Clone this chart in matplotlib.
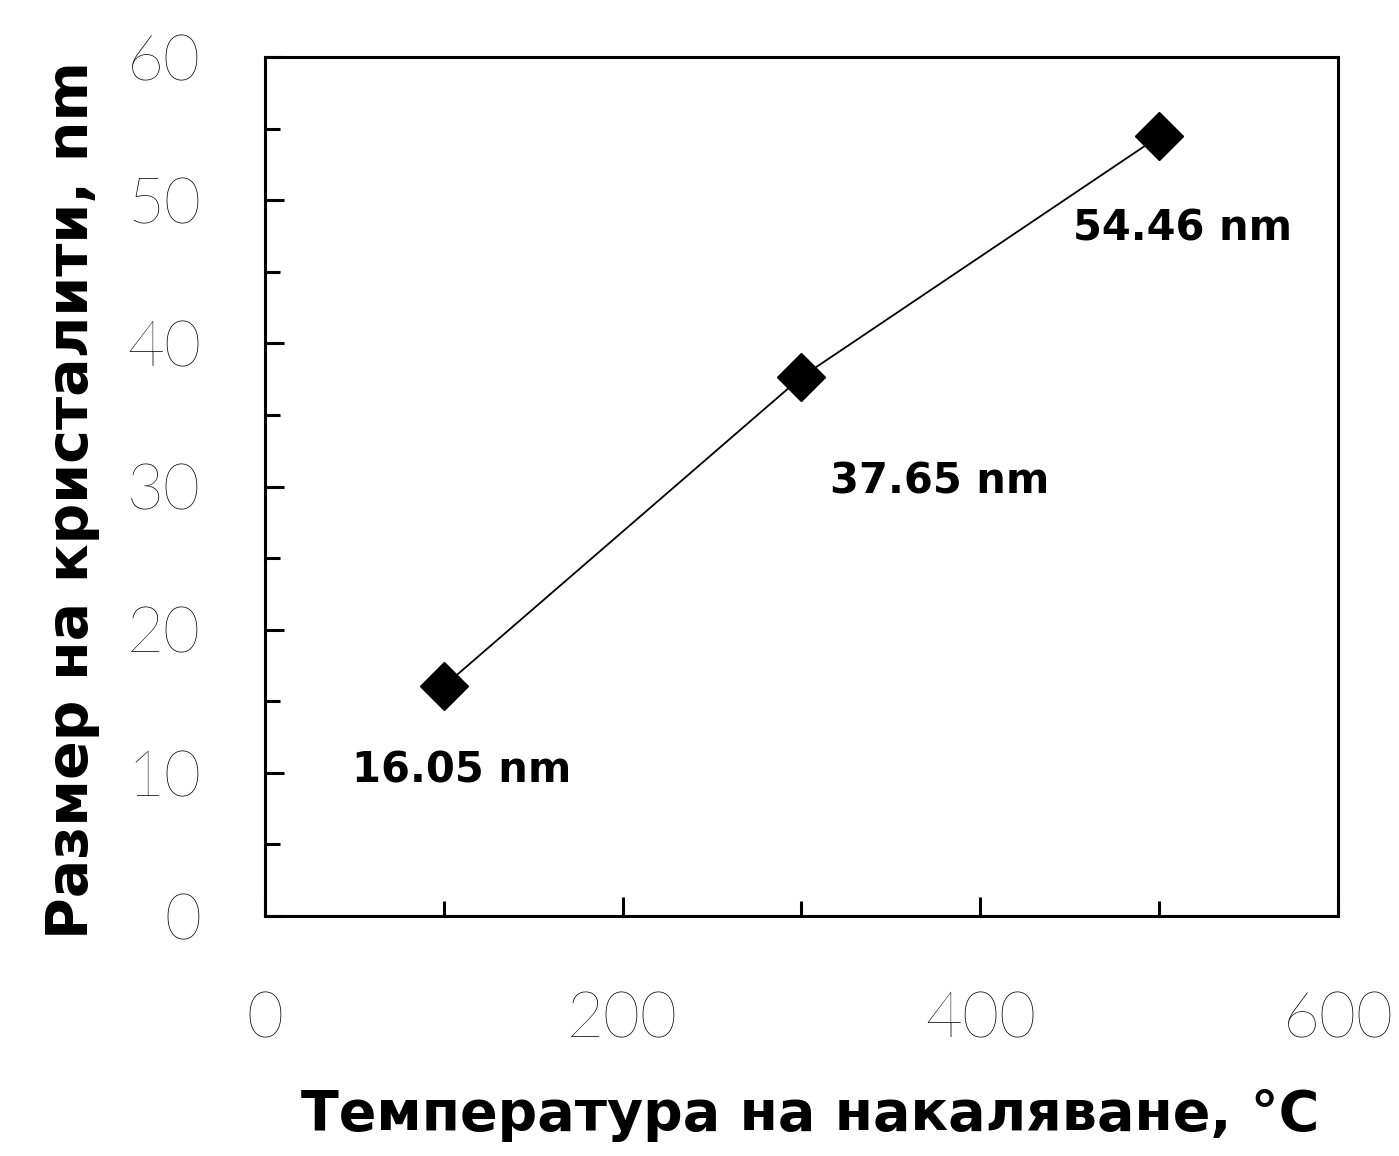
import matplotlib
matplotlib.use('Agg')
import matplotlib.pyplot as plt
from matplotlib.ticker import MultipleLocator

# данни
temp = [100, 300, 500]
razmer = [16.05, 37.65, 54.46]
etiketi = ['16.05 nm', '37.65 nm', '54.46 nm']
otmestvane = [(18, -84), (138, -105), (23, -92)]  # pixels

fig = plt.figure(figsize=(13.99, 11.56), dpi=100)
ax = fig.add_axes([0.1894, 0.2076, 0.767, 0.7431])

ax.plot(temp, razmer, color='black', lw=1.3, marker='D', ms=24,
        markerfacecolor='black', markeredgecolor='black')

for x, y, t, off in zip(temp, razmer, etiketi, otmestvane):
    ax.annotate(t, (x, y), xytext=off, textcoords='offset pixels',
                ha='center', va='center', fontsize=30, fontweight='bold',
                family='DejaVu Sans')

ax.set_xlim(0, 600)
ax.set_ylim(0, 60)
ax.xaxis.set_major_locator(MultipleLocator(200))
ax.xaxis.set_minor_locator(MultipleLocator(100))
ax.yaxis.set_major_locator(MultipleLocator(10))
ax.yaxis.set_minor_locator(MultipleLocator(5))

for s in ax.spines.values():
    s.set_linewidth(2.2)

ax.tick_params(which='both', direction='in', width=2.2, top=False, right=False)
ax.tick_params(which='major', length=14)
ax.tick_params(which='minor', length=11)
ax.tick_params(axis='x', which='major', pad=54, labelsize=46)
ax.tick_params(axis='y', which='major', pad=46, labelsize=46)
for lab in ax.get_xticklabels() + ax.get_yticklabels():
    lab.set_family('Lato')
    lab.set_fontweight('light')

ax.set_xlabel('Температура на накаляване, °C', fontsize=40, fontweight='bold')
ax.set_ylabel('Размер на кристалити, nm', fontsize=41, fontweight='bold')
ax.xaxis.set_label_coords(0.508, -0.2)
ax.yaxis.set_label_coords(-0.154, 0.484)

fig.savefig('out.png', dpi=100)
